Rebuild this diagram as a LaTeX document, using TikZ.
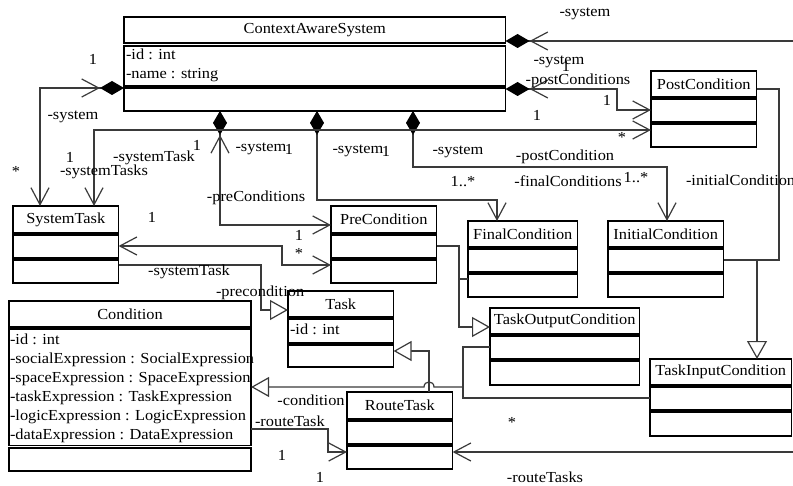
\documentclass[tikz,border=0pt]{standalone}
\usepackage{fontspec}
\setmainfont{Liberation Serif}[FakeStretch=1.07]
\usetikzlibrary{arrows.meta}
\newcommand\umlfont{\fontsize{15.3bp}{18bp}\selectfont}
\definecolor{wirecol}{HTML}{3A3A3A}
\begin{document}
\begin{tikzpicture}[x=1bp,y=-1bp,
  every node/.style={font=\umlfont, inner sep=0pt, outer sep=0pt},
  box/.style={draw=black, line width=1.35bp, anchor=north west, fill=white},
  attr/.style={anchor=mid west},
  lbl/.style={anchor=mid},
  lblw/.style={anchor=mid west},
  wire/.style={draw=wirecol, line width=1.2bp, line join=miter},
  openv/.tip={Straight Barb[length=17bp,width=18bp]},
  comp/.tip={Diamond[length=24bp,width=14bp,color=black]},
  gen/.tip={Triangle[length=18bp,width=20bp,fill=white]},
]
\useasboundingbox (0,0) rectangle (793,486);

% ---------- classes ----------
% ContextAwareSystem
\node[box, minimum width=383, minimum height=26] (cas)  at (124,17) {ContextAwareSystem};
\node[box, minimum width=383, minimum height=40] (casA) at (124,46) {};
\node[box, minimum width=383, minimum height=23] (casO) at (124,88) {};
\node[attr] (casA1) at (126,57) {-id : int};
\node[attr] (casA2) at (126,76) {-name : string};

% SystemTask
\node[box, minimum width=106, minimum height=27] (st)  at (13,206) {SystemTask};
\node[box, minimum width=106, minimum height=23] (stA) at (13,235) {};
\node[box, minimum width=106, minimum height=23] (stO) at (13,260) {};

% PostCondition
\node[box, minimum width=106, minimum height=26] (pc)  at (651,71) {PostCondition};
\node[box, minimum width=106, minimum height=23] (pcA) at (651,99) {};
\node[box, minimum width=106, minimum height=23] (pcO) at (651,124) {};

% PreCondition
\node[box, minimum width=106, minimum height=27] (pre)  at (331,206) {PreCondition};
\node[box, minimum width=106, minimum height=23] (preA) at (331,235) {};
\node[box, minimum width=106, minimum height=23] (preO) at (331,260) {};

% FinalCondition
\node[box, minimum width=110, minimum height=26] (fc)  at (468,221) {FinalCondition};
\node[box, minimum width=110, minimum height=23] (fcA) at (468,249) {};
\node[box, minimum width=110, minimum height=23] (fcO) at (468,274) {};

% InitialCondition
\node[box, minimum width=116, minimum height=26] (ic)  at (608,221) {InitialCondition};
\node[box, minimum width=116, minimum height=23] (icA) at (608,249) {};
\node[box, minimum width=116, minimum height=23] (icO) at (608,274) {};

% Task
\node[box, minimum width=106, minimum height=26] (task)  at (288,291) {Task};
\node[box, minimum width=106, minimum height=24] (taskA) at (288,319) {};
\node[box, minimum width=106, minimum height=22] (taskO) at (288,345) {};
\node[attr] (taskA1) at (290,332) {-id : int};

% TaskOutputCondition
\node[box, minimum width=150, minimum height=26] (toc)  at (490,308) {TaskOutputCondition};
\node[box, minimum width=150, minimum height=23] (tocA) at (490,336) {};
\node[box, minimum width=150, minimum height=24] (tocO) at (490,361) {};

% TaskInputCondition
\node[box, minimum width=142, minimum height=26] (tic)  at (650,359) {TaskInputCondition};
\node[box, minimum width=142, minimum height=23] (ticA) at (650,387) {};
\node[box, minimum width=142, minimum height=24] (ticO) at (650,412) {};

% RouteTask
\node[box, minimum width=106, minimum height=27] (rt)  at (347,392) {RouteTask};
\node[box, minimum width=106, minimum height=23] (rtA) at (347,421) {};
\node[box, minimum width=106, minimum height=23] (rtO) at (347,446) {};

% Condition
\node[box, minimum width=243, minimum height=26]  (cond)  at (9,301) {Condition};
\node[box, minimum width=243, minimum height=117] (condA) at (9,329) {};
\node[box, minimum width=243, minimum height=23]  (condO) at (9,448) {};
\node[attr] (condA1) at (10,342) {-id : int};
\node[attr] (condA2) at (10,361) {-socialExpression : SocialExpression};
\node[attr] (condA3) at (10,380) {-spaceExpression : SpaceExpression};
\node[attr] (condA4) at (10,399) {-taskExpression : TaskExpression};
\node[attr] (condA5) at (10,418) {-logicExpression : LogicExpression};
\node[attr] (condA6) at (10,437) {-dataExpression : DataExpression};

% ---------- free ends at the border ----------
\coordinate (edgeTop) at (793,41);
\coordinate (edgeBottom) at (793,452);
\coordinate (condJoin) at (463,387);

% ---------- connectors ----------
% compositions owned by ContextAwareSystem
\draw[wire, {comp[]openv[]}-] (cas.east |- 0,41) -- (edgeTop);
\draw[wire, {comp[]openv[]}-{openv[]}] (casO.east |- 0,89) -- (617,89) -- (617,110) -- (pcA.west |- 0,110);
\draw[wire, {comp[]openv[]}-{openv[]}] (casO.west |- 0,88) -- (40,88) -- (st.north -| 40,0);
\draw[wire, {comp[]openv[]}-{openv[]}] (casO.south -| 220,0) -- (220,225) -- (pre.west |- 0,225);
\draw[wire, {comp[]}-{openv[]}] (casO.south -| 317,0) -- (317,200) -- (497,200) -- (fc.north -| 497,0);
\draw[wire, {comp[]}-{openv[]}] (casO.south -| 413,0) -- (413,167) -- (667,167) -- (ic.north -| 667,0);

% associations
\draw[wire, {openv[]}-{openv[]}] (st.north -| 94,0) -- (94,130) -- (pcO.west |- 0,130);
\draw[wire, {openv[]}-{openv[]}] (stA.east |- 0,246) -- (282,246) -- (282,265) -- (preO.west |- 0,265);
\draw[wire, -{openv[]}] (condA.east |- 0,429) -- (328,429) -- (328,452) -- (rtO.west |- 0,452);
\draw[wire, -{openv[]}] (edgeBottom) -- (rtO.east |- 0,452);
\draw[wire] (tocA.west |- 0,347) -- (463,347) -- (463,398) -- (ticA.west |- 0,398);

% generalisations
\draw[wire, -{gen[]}] (stO.east |- 0,265) -- (261,265) -- (261,310) -- (task.west |- 0,310);
\draw[wire, -{gen[]}] (preA.east |- 0,246) -- (459,246) -- (459,327) -- (toc.west |- 0,327);
\draw[wire] (fcO.west |- 0,279) -- (459,279);
\draw[wire, -{gen[]}] (pc.east |- 0,89) -- (779,89) -- (779,260) -- (757,260) -- (tic.north -| 757,0);
\draw[wire] (icA.east |- 0,260) -- (757,260);
\draw[wire, -{gen[]}] (rt.north -| 429,0) -- (429,351) -- (taskO.east |- 0,351);
\draw[wire, -{gen[]}] (condJoin) -- (434,387) .. controls (434,380.3) and (424,380.3) .. (424,387) -- (condA.east |- 0,387);

% ---------- role names and multiplicities ----------
\node[lbl] (r1)  at (585,14)  {-system};
\node[lbl] (r2)  at (559,62)  {-system};
\node[lbl] (m1)  at (566,69)  {1};
\node[lbl] (r3)  at (578,82)  {-postConditions};
\node[lbl] (m2)  at (607,103) {1};
\node[lbl] (m3)  at (537,118) {1};
\node[lbl] (m4)  at (622,140) {*};
\node[lbl] (m5)  at (93,62)   {1};
\node[lbl] (r4)  at (73,117)  {-system};
\node[lbl] (m6)  at (16,174)  {*};
\node[lbl] (m7)  at (70,160)  {1};
\node[lbl] (r5)  at (104,173) {-systemTasks};
\node[lbl] (r6)  at (154,159) {-systemTask};
\node[lbl] (m8)  at (197,148) {1};
\node[lbl] (r7)  at (261,149) {-system};
\node[lbl] (m9)  at (289,152) {1};
\node[lbl] (r8)  at (358,151) {-system};
\node[lbl] (m10) at (386,154) {1};
\node[lbl] (r9)  at (458,152) {-system};
\node[lbl] (r10) at (565,158) {-postCondition};
\node[lbl] (r11) at (256,199) {-preConditions};
\node[lbl] (m11) at (463,184) {1..*};
\node[lbl] (r12) at (568,184) {-finalConditions};
\node[lbl] (m12) at (636,180) {1..*};
\node[lblw] (r13) at (686,183) {-initialCondition};
\node[lbl] (m13) at (152,220) {1};
\node[lbl] (m14) at (299,238) {1};
\node[lbl] (m15) at (299,256) {*};
\node[lbl] (r14) at (189,273) {-systemTask};
\node[lblw] (r15) at (216,294) {-precondition};
\node[lbl] (r16) at (311,403) {-condition};
\node[lblw] (r17) at (255,424) {-routeTask};
\node[lbl] (m16) at (282,458) {1};
\node[lbl] (m17) at (320,480) {1};
\node[lbl] (m18) at (512,425) {*};
\node[lbl] (r18) at (545,480) {-routeTasks};
\end{tikzpicture}
\end{document}
